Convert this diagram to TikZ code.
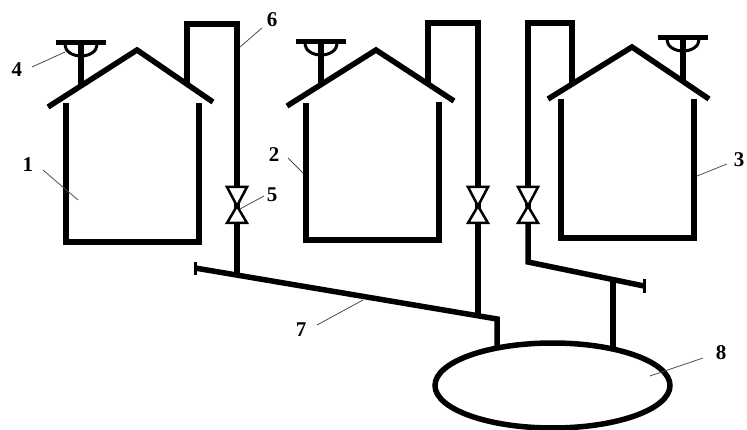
\documentclass[tikz,border=0pt]{standalone}
\usepackage{fontspec}
\setmainfont{Liberation Serif}
\begin{document}
\begin{tikzpicture}[x=1pt,y=-1pt,
  heavy/.style={line width=5.5pt,line cap=butt,line join=miter},
  endtick/.style={line width=3pt},
  leader/.style={line width=0.8pt,black!70},
  num/.style={font=\fontsize{21}{21}\selectfont\bfseries,inner sep=0pt},
  valve/.pic={\draw[line width=2.5pt,fill=white,line join=miter]
      (-10,-19) -- (10,-19) -- (0,0) -- cycle
      (-10,17) -- (10,17) -- (0,0) -- cycle;},
  antenna/.pic={\draw[line width=5pt] (-25,0) -- (25,0);
      \draw[line width=3pt] (-16,2) arc[start angle=180,end angle=0,x radius=16,y radius=11];}
]
\useasboundingbox (0,0) rectangle (747,430);

% ---------- houses ----------
% house 1
\coordinate (h1rl) at (48,107);  \coordinate (h1top) at (137,50); \coordinate (h1rr) at (213,102);
\draw[heavy] (h1rl) -- (h1top) -- (h1rr);
\draw[heavy] (66,103) -- (66,242) -- (199,242) -- (199,103);
% house 2
\coordinate (h2rl) at (287,106); \coordinate (h2top) at (376,50); \coordinate (h2rr) at (454,101);
\draw[heavy] (h2rl) -- (h2top) -- (h2rr);
\draw[heavy] (306,103) -- (306,240) -- (439,240) -- (439,102);
% house 3
\coordinate (h3rl) at (548,99);  \coordinate (h3top) at (632,47); \coordinate (h3rr) at (709,99);
\draw[heavy] (h3rl) -- (h3top) -- (h3rr);
\draw[heavy] (561,99) -- (561,238) -- (694,238) -- (694,99);

% ---------- roof antennas ----------
\coordinate (a1) at (81,43);  \coordinate (a1s) at (81,86);
\coordinate (a2) at (321,42); \coordinate (a2s) at (321,84);
\coordinate (a3) at (683,38); \coordinate (a3s) at (683,81);
\draw[heavy] (a1) -- (a1s) (a2) -- (a2s) (a3) -- (a3s);
\pic at (a1) {antenna};
\pic at (a2) {antenna};
\pic at (a3) {antenna};

% ---------- flues with valves ----------
\coordinate (f1a) at (187,84); \coordinate (f1b) at (187,24); \coordinate (f1c) at (237,24);
\coordinate (v1) at (237,206);
\coordinate (f2a) at (428,84); \coordinate (f2b) at (428,23); \coordinate (f2c) at (478,23);
\coordinate (v2) at (478,206);
\coordinate (f3a) at (572,84); \coordinate (f3b) at (572,23); \coordinate (f3c) at (528,23);
\coordinate (v3) at (528,206);
\draw[heavy] (f1a) -- (f1b) -- (f1c) -- (v1);
\draw[heavy] (f2a) -- (f2b) -- (f2c) -- (v2);
\draw[heavy] (f3a) -- (f3b) -- (f3c) -- (v3);

% ---------- collectors ----------
\coordinate (m1a) at (195,268); \coordinate (m1j) at (237,275);
\coordinate (m2j) at (478,316); \coordinate (m1b) at (497,319); \coordinate (d1) at (497,349);
\coordinate (m3a) at (528,262); \coordinate (m3b) at (644,286);
\coordinate (m3j) at (613,280); \coordinate (d2) at (613,349);
\draw[heavy] (v1) -- (m1j);
\draw[heavy] (v2) -- (m2j);
\draw[heavy] (v3) -- (m3a) -- (m3b);
\draw[heavy] (m1a) -- (m1b) -- (d1);
\draw[heavy] (m3j) -- (d2);
\draw[endtick] (195,262) -- (195,275);
\draw[endtick] (644,279) -- (644,293);

\pic at (v1) {valve};
\pic at (v2) {valve};
\pic at (v3) {valve};

% ---------- tank ----------
\draw[heavy] (552.5,385.5) ellipse[x radius=117.5,y radius=42.5];
\coordinate (tankr) at (650,376);

% ---------- reference numbers ----------
\node[num] (n1) at (28,165) {1};
\node[num] (n2) at (274,155) {2};
\node[num] (n3) at (739,160) {3};
\node[num] (n4) at (17,70) {4};
\node[num] (n5) at (272,195) {5};
\node[num] (n6) at (272,20) {6};
\node[num] (n7) at (301,330) {7};
\node[num] (n8) at (721,353) {8};

\coordinate (t1) at (78,200);  \coordinate (t2) at (303,173); \coordinate (t3) at (697,176);
\coordinate (t4) at (65,52);   \coordinate (t5) at (240,209); \coordinate (t6) at (240,47);
\coordinate (t7) at (363,300);
\draw[leader] (43,170) -- (t1);
\draw[leader] (288,158) -- (t2);
\draw[leader] (727,164) -- (t3);
\draw[leader] (32,67) -- (t4);
\draw[leader] (264,196) -- (t5);
\draw[leader] (262,28) -- (t6);
\draw[leader] (317,325) -- (t7);
\draw[leader] (703,358) -- (tankr);
\end{tikzpicture}
\end{document}
